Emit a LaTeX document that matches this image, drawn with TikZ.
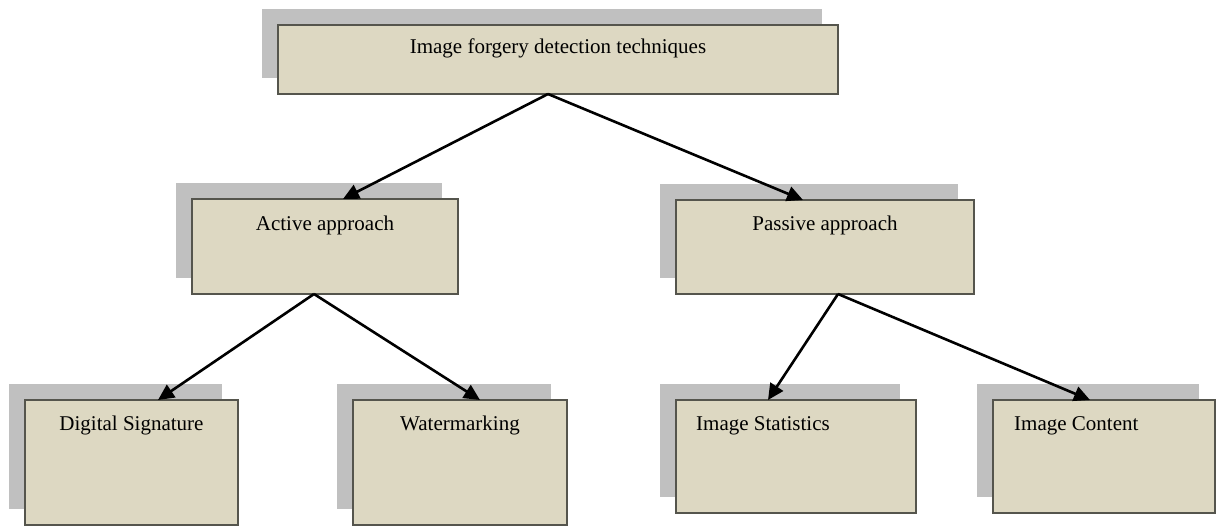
\documentclass[tikz,border=0pt]{standalone}
\usepackage{fontspec}
\setmainfont{Liberation Serif}
\usetikzlibrary{arrows.meta,shadows}
\definecolor{boxfill}{HTML}{DDD8C2}
\definecolor{boxline}{HTML}{55554D}
\definecolor{shade}{HTML}{C0C0C0}
\tikzset{
  box/.style={draw=boxline, line width=1.3pt, fill=boxfill, inner sep=0pt, outer sep=0pt,
    rectangle, general shadow={fill=shade, shadow xshift=-16pt, shadow yshift=16pt}},
  lbl/.style={anchor=base, inner sep=0pt, font=\fontsize{21}{25}\selectfont},
  lbll/.style={lbl, anchor=base west},
  arr/.style={line width=2.6pt, -{Triangle[length=16pt,width=15pt]}}
}
\begin{document}
\begin{tikzpicture}[x=1pt,y=-1pt]
\useasboundingbox (0,0) rectangle (1231,526);
% boxes
\node[box, minimum width=560pt, minimum height=69pt]  (root) at (558,59.5) {};
\node[box, minimum width=266pt, minimum height=95pt]  (act)  at (325,246.5) {};
\node[box, minimum width=298pt, minimum height=94pt]  (pas)  at (825,247) {};
\node[box, minimum width=213pt, minimum height=125pt] (ds)   at (131.5,462.5) {};
\node[box, minimum width=214pt, minimum height=125pt] (wm)   at (460,462.5) {};
\node[box, minimum width=240pt, minimum height=113pt] (ist)  at (796,456.5) {};
\node[box, minimum width=222pt, minimum height=113pt] (ico)  at (1104,456.5) {};
% labels
\node[lbl]  (troot) at (558,54)  {Image forgery detection techniques};
\node[lbl]  (tact)  at (325,231) {Active approach};
\node[lbl]  (tpas)  at (825,231) {Passive approach};
\node[lbl]  (tds)   at (131.5,430) {Digital Signature};
\node[lbl]  (twm)   at (460,430) {Watermarking};
\node[lbll] (tist)  at (696,430) {Image Statistics};
\node[lbll] (tico)  at (1014,430) {Image Content};
% connectors
\draw[arr] ([xshift=-10pt]root.south) -- ([xshift=18pt]act.north);
\draw[arr] ([xshift=-10pt]root.south) -- ([xshift=-22pt]pas.north);
\draw[arr] ([xshift=-11pt]act.south) -- ([xshift=26.5pt]ds.north);
\draw[arr] ([xshift=-11pt]act.south) -- ([xshift=20pt]wm.north);
\draw[arr] ([xshift=13pt]pas.south) -- ([xshift=-28pt]ist.north);
\draw[arr] ([xshift=13pt]pas.south) -- ([xshift=-14pt]ico.north);
\end{tikzpicture}
\end{document}
